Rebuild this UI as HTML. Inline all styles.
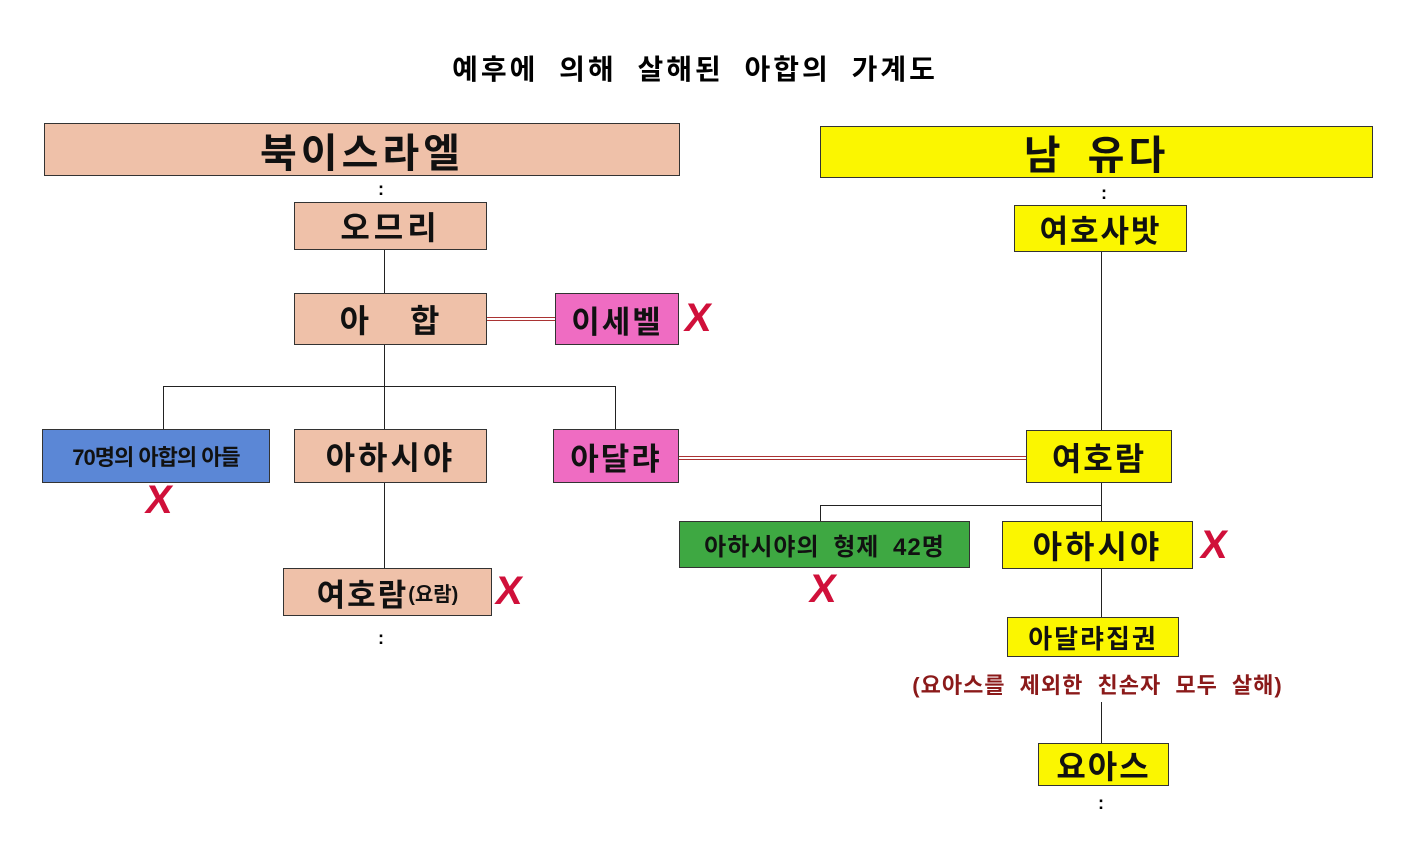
<!DOCTYPE html>
<html><head><meta charset="utf-8"><style>
body{margin:0;width:1415px;height:843px;background:#fff;position:relative;overflow:hidden;font-family:"Liberation Sans","Noto Sans CJK KR",sans-serif;}
.b{position:absolute;box-sizing:border-box;border:1.5px solid #333;display:flex;align-items:center;justify-content:center;font-weight:bold;color:#111;white-space:nowrap;letter-spacing:2px}
.p{background:#efc1a9}.y{background:#fbf600}.k{background:#ef6cc2}
.l{position:absolute;background:#222}
.r{position:absolute;border-top:1px solid #a33;border-bottom:1px solid #a33;height:2px}
.x{position:absolute;color:#d0103a;font-weight:bold;font-size:40px;line-height:40px;transform:translate(-50%,-50%) skewX(-8deg);font-family:"Liberation Sans",sans-serif}
.d{position:absolute;font-weight:bold;font-size:18px;line-height:18px;transform:translate(-50%,-50%)}
</style></head><body>
<div style="position:absolute;left:430px;top:48px;width:530px;text-align:center;font-weight:bold;font-size:28px;letter-spacing:3px;word-spacing:10px">예후에 의해 살해된 아합의 가계도</div>

<div class="b p" style="left:44px;top:123px;width:636px;height:53px;font-size:40px;letter-spacing:4px">북이스라엘</div>
<div class="b y" style="left:820px;top:126px;width:553px;height:52px;font-size:40px;word-spacing:8px;letter-spacing:4px">남 유다</div>

<div class="b p" style="left:294px;top:202px;width:193px;height:48px;font-size:32px;letter-spacing:4px">오므리</div>
<div class="b p" style="left:294px;top:293px;width:193px;height:52px;font-size:32px;word-spacing:28px">아 합</div>
<div class="b k" style="left:555px;top:293px;width:124px;height:52px;font-size:31px">이세벨</div>
<div class="b" style="left:42px;top:429px;width:228px;height:54px;font-size:22px;background:#5b87d6;letter-spacing:-1px">70명의 아합의 아들</div>
<div class="b p" style="left:294px;top:429px;width:193px;height:54px;font-size:32px;letter-spacing:3px">아하시야</div>
<div class="b k" style="left:553px;top:429px;width:126px;height:54px;font-size:31px">아달랴</div>
<div class="b p" style="left:283px;top:568px;width:209px;height:48px;font-size:31px">여호람<span style="font-size:20px;letter-spacing:0">(요람)</span></div>

<div class="b y" style="left:1014px;top:205px;width:173px;height:47px;font-size:31px">여호사밧</div>
<div class="b y" style="left:1026px;top:430px;width:146px;height:53px;font-size:32px">여호람</div>
<div class="b" style="left:679px;top:521px;width:291px;height:47px;font-size:24px;background:#3ea842;word-spacing:6px;letter-spacing:1px">아하시야의 형제 42명</div>
<div class="b y" style="left:1002px;top:521px;width:191px;height:48px;font-size:32px;letter-spacing:3px">아하시야</div>
<div class="b y" style="left:1007px;top:617px;width:172px;height:40px;font-size:26px">아달랴집권</div>
<div style="position:absolute;left:885px;top:668px;width:425px;text-align:center;color:#8b1a1a;font-weight:bold;font-size:22px;word-spacing:7px;letter-spacing:1px">(요아스를 제외한 친손자 모두 살해)</div>
<div class="b y" style="left:1038px;top:743px;width:131px;height:43px;font-size:32px">요아스</div>

<div class="l" style="left:384px;top:250px;width:1px;height:43px"></div>
<div class="l" style="left:384px;top:345px;width:1px;height:84px"></div>
<div class="l" style="left:163px;top:386px;width:453px;height:1px"></div>
<div class="l" style="left:163px;top:386px;width:1px;height:43px"></div>
<div class="l" style="left:615px;top:386px;width:1px;height:43px"></div>
<div class="l" style="left:384px;top:483px;width:1px;height:85px"></div>
<div class="r" style="left:487px;top:317px;width:68px"></div>
<div class="r" style="left:679px;top:456px;width:347px"></div>
<div class="l" style="left:1101px;top:252px;width:1px;height:178px"></div>
<div class="l" style="left:1101px;top:483px;width:1px;height:38px"></div>
<div class="l" style="left:820px;top:505px;width:281px;height:1px"></div>
<div class="l" style="left:820px;top:505px;width:1px;height:16px"></div>
<div class="l" style="left:1101px;top:569px;width:1px;height:48px"></div>
<div class="l" style="left:1101px;top:702px;width:1px;height:41px"></div>

<div class="x" style="left:698px;top:318px">X</div>
<div class="x" style="left:159px;top:500px">X</div>
<div class="x" style="left:509px;top:591px">X</div>
<div class="x" style="left:823px;top:589px">X</div>
<div class="x" style="left:1214px;top:545px">X</div>

<div class="d" style="left:381px;top:189px">:</div>
<div class="d" style="left:1104px;top:193px">:</div>
<div class="d" style="left:381px;top:638px">:</div>
<div class="d" style="left:1101px;top:803px">:</div>
</body></html>
